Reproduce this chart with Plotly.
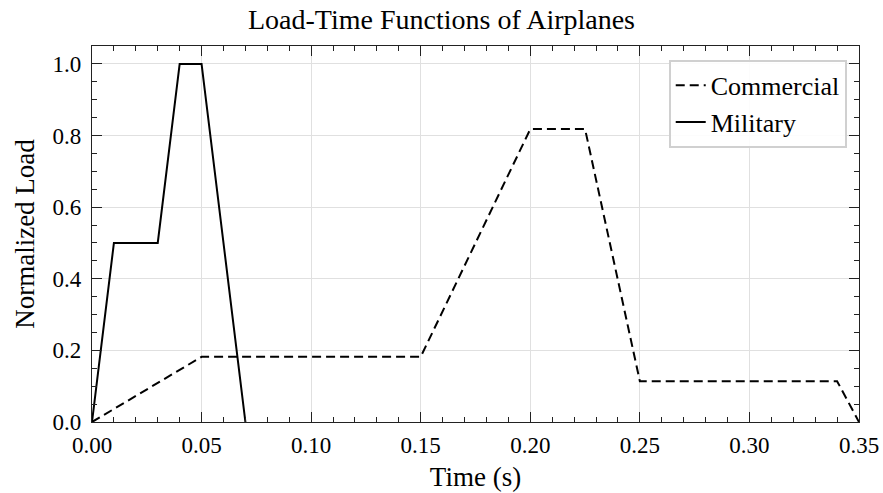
import plotly.graph_objects as go

commercial_t = [0.0, 0.05, 0.15, 0.20, 0.225, 0.25, 0.34, 0.35]
commercial_load = [0.0, 0.182, 0.182, 0.818, 0.818, 0.114, 0.114, 0.0]
military_t = [0.0, 0.01, 0.03, 0.04, 0.05, 0.07]
military_load = [0.0, 0.5, 0.5, 1.0, 1.0, 0.0]

x_ticks = [0.0, 0.05, 0.10, 0.15, 0.20, 0.25, 0.30, 0.35]
x_ticklabels = ["0.00", "0.05", "0.10", "0.15", "0.20", "0.25", "0.30", "0.35"]
y_ticks = [0.0, 0.2, 0.4, 0.6, 0.8, 1.0]
y_ticklabels = ["0.0", "0.2", "0.4", "0.6", "0.8", "1.0"]

FONT = "Liberation Serif, DejaVu Serif, serif"

fig = go.Figure()
fig.add_trace(go.Scatter(x=commercial_t, y=commercial_load, mode="lines", name="Commercial",
                         line=dict(color="black", width=2, dash="9px,5px")))
fig.add_trace(go.Scatter(x=military_t, y=military_load, mode="lines", name="Military",
                         line=dict(color="black", width=2)))

axis_common = dict(
    showline=True, linecolor="#222", linewidth=1.3, mirror="allticks",
    ticks="inside", ticklen=10, tickwidth=1.2, tickcolor="#222",
    showgrid=True, gridcolor="#e0e0e0", gridwidth=1, zeroline=False,
    tickfont=dict(family=FONT, size=23, color="black"),
    automargin=False,
)

fig.update_xaxes(range=[0, 0.35], tickvals=x_ticks, ticktext=x_ticklabels,
                 minor=dict(dtick=0.01, ticks="inside", ticklen=5, tickwidth=1, tickcolor="#222", showgrid=False),
                 title=dict(text="Time (s)", font=dict(family=FONT, size=27, color="black"), standoff=10),
                 ticklabelstandoff=2,
                 **axis_common)
fig.update_yaxes(range=[0, 1.05], tickvals=y_ticks, ticktext=y_ticklabels,
                 minor=dict(dtick=0.05, ticks="inside", ticklen=5, tickwidth=1, tickcolor="#222", showgrid=False),
                 title=dict(text="Normalized Load", font=dict(family=FONT, size=27, color="black"), standoff=10),
                 ticklabelstandoff=5,
                 **axis_common)

fig.update_layout(
    width=883, height=493,
    margin=dict(l=92, r=24, t=46, b=71),
    paper_bgcolor="white", plot_bgcolor="white",
    title=dict(text="Load-Time Functions of Airplanes", x=0.5, xanchor="center", y=0.962, yanchor="middle",
               font=dict(family=FONT, size=28, color="black")),
    legend=dict(x=0.984, y=0.963, xanchor="right", yanchor="top",
                bgcolor="rgba(255,255,255,0.9)", bordercolor="#d0d0d0", borderwidth=2,
                font=dict(family=FONT, size=26, color="black"), tracegroupgap=0),
    showlegend=True,
)

fig.write_html("out.html", config={"displayModeBar": False},
               post_script="document.body.style.margin='0';")
